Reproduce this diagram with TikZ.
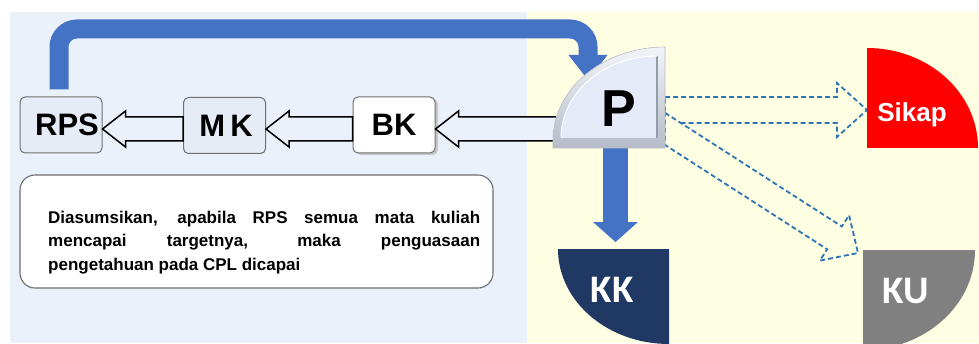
\documentclass[tikz,border=0pt]{standalone}
\usepackage{fontspec}
\setmainfont{Liberation Sans}
\newfontfamily\carlito{Carlito}
\usetikzlibrary{calc}
\definecolor{bgblue}{HTML}{EAF1FA}
\definecolor{bgyellow}{HTML}{FEFEE3}
\definecolor{arrowblue}{HTML}{4472C4}
\definecolor{dashblue}{HTML}{2E75B6}
\definecolor{kkblue}{HTML}{203864}
\definecolor{kugray}{HTML}{808080}
\definecolor{boxline}{HTML}{6F6F6F}
\definecolor{boxfill}{HTML}{E6ECF6}
\definecolor{pouterA}{HTML}{F2F4F8}
\definecolor{pouterB}{HTML}{B5BCC8}
\definecolor{pinner}{HTML}{E4EAF8}
\definecolor{pedge}{HTML}{959DAA}
\definecolor{noteline}{HTML}{6D6D6D}
\newcommand\hollowarr[2]{%
  \draw[hollow] (#1 |- 0,214) -- ++(23,18) -- ++(0,-6) -- (#2 |- 0,226)
    -- (#2 |- 0,202) -- ($(#1 |- 0,214)+(23,-12)$) -- ++(0,-6) -- cycle;}
\begin{document}
\begin{tikzpicture}[x=1pt,y=1pt,
  stepbox/.style={draw=boxline, line width=1pt, rounded corners=5pt,
    minimum width=82pt, minimum height=56pt, inner sep=0pt,
    font=\fontsize{31}{31}\selectfont\bfseries},
  hollow/.style={draw=black, line width=1.5pt, fill=bgblue, line join=miter},
  dasharrow/.style={draw=dashblue, line width=1.8pt, dash pattern=on 5pt off 3pt,
    fill=bgyellow, line join=miter},
  thickblue/.style={draw=arrowblue, line width=19pt},
  para/.style={anchor=base west, inner sep=0pt, font=\fontsize{17}{23.5}\selectfont\bfseries},
  whitelabel/.style={anchor=base, inner sep=0pt, text=white},
  ]
\useasboundingbox (0,0) rectangle (979,343);
\clip (0,0) rectangle (979,343);
\fill[white] (0,0) rectangle (979,343);
\fill[bgblue] (10,0) rectangle (527,331);
\fill[bgyellow] (527,0) rectangle (979,331);

% boxes
\node[stepbox, fill=boxfill] (RPS) at (61,218) {\hspace*{12pt}RPS};
\node[stepbox, fill=boxfill] (MK) at (224.5,217.5) {\hspace*{3pt}M\,K};
\fill[black!22, rounded corners=5pt] (356,188) rectangle (438,244);
\node[stepbox, fill=white] (BK) at (394,218) {BK};

% named points of the P shape
\coordinate (Pentry) at (588,263);
\coordinate (Pin) at (575,214);
\coordinate (Pbottom) at (615.5,195);
\coordinate (KKtop) at (615.5,101);

% hollow arrows
\hollowarr{RPS.east}{MK.west}
\hollowarr{MK.east}{BK.west}
\hollowarr{BK.east}{Pin}

% thick blue arrow RPS -> P
\draw[thickblue, rounded corners=18pt] ($(RPS.north)+(-2,7)$) |- (588,314) -- (588,286);
\fill[arrowblue] (568.5,288) -- (607.5,288) -- (Pentry) -- cycle;

% thick blue arrow P -> KK
\fill[arrowblue] ($(Pbottom)+(-12.5,0)$) rectangle ($(Pbottom)+(12.5,-74)$);
\fill[arrowblue] (593,121) -- (638,121) -- (KKtop) -- cycle;

% dashed hollow arrows
\draw[dasharrow] (665,246) -- (837,246) -- (837,260) -- (867,233) -- (837,206)
  -- (837,220) -- (665,220) -- cycle;
\draw[dasharrow] (665,230.2) -- (841.8,116.5) -- (849.1,127.8) -- (858,90)
  -- (819.9,82.4) -- (827.2,93.7) -- (665,198.1) -- cycle;

% P shape
\shade[top color=pouterA, bottom color=pouterB, draw=pouterB, line width=0.6pt]
  (665,195) -- (553,195) -- (553,203)
  arc[start angle=180, end angle=90, x radius=112, y radius=93] -- cycle;
\fill[pinner] (657,205) -- (561,205)
  arc[start angle=180, end angle=90, x radius=96, y radius=82] -- cycle;
\draw[pedge, line width=1.2pt] (657,287) -- (657,205);
\draw[white, line width=1pt] (561,205)
  arc[start angle=180, end angle=90, x radius=96, y radius=82];
\node[anchor=base, inner sep=0pt, font=\fontsize{52}{52}\selectfont\bfseries] (P) at (619,216) {P};

% Sikap
\fill[red] (867,195) -- (867,295)
  arc[start angle=90, end angle=0, x radius=111, y radius=100] -- cycle;
\node[whitelabel, font=\fontsize{26}{26}\selectfont\bfseries] (Sikap) at (912,221) {Sikap};

% KK
\fill[kkblue] (669,94) -- (558,94)
  arc[start angle=180, end angle=270, x radius=111, y radius=95] -- cycle;
\node[whitelabel, font=\carlito\fontsize{39}{39}\selectfont\bfseries] (KK) at (612,41) {KK};

% KU
\fill[kugray] (863,93) -- (975,93)
  arc[start angle=0, end angle=-90, x radius=112, y radius=100] -- cycle;
\node[whitelabel, font=\carlito\fontsize{39}{39}\selectfont\bfseries] (KU) at (906,40) {KU};

% note
\node[draw=noteline, line width=1.1pt, fill=white, rounded corners=15pt,
  minimum width=473pt, minimum height=113pt, inner sep=0pt] (note) at (256.5,111.5) {};
\node[para] (l1) at (48,120) {\makebox[432pt][s]{Diasumsikan, apabila RPS semua mata kuliah}};
\node[para] (l2) at (48,96.5) {\makebox[432pt][s]{mencapai targetnya, maka penguasaan}};
\node[para] (l3) at (48,73) {pengetahuan pada CPL dicapai};
\end{tikzpicture}
\end{document}
